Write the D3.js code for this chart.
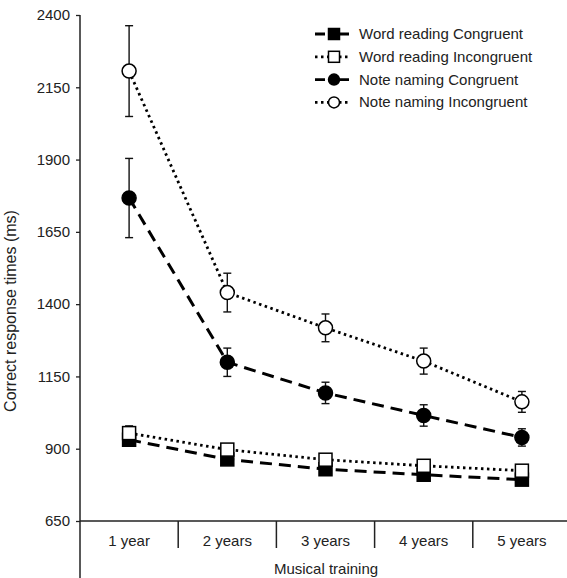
<!DOCTYPE html>
<html>
<head>
<meta charset="utf-8">
<script src="https://cdn.jsdelivr.net/npm/d3@7"></script>
<style>
  body { margin: 0; background: #fff; }
  svg text { font-family: "Liberation Sans", Arial, sans-serif; fill: #222; }
</style>
</head>
<body>
<svg id="chart" width="567" height="578"></svg>
<script>
var categories = ["1 year", "2 years", "3 years", "4 years", "5 years"];
var yTicks = [650, 900, 1150, 1400, 1650, 1900, 2150, 2400];

// means and standard errors
var wordCong = [931, 863, 829, 810, 793];
var wordCongErr = [0, 0, 0, 0, 0];
var wordIncong = [954, 897, 862, 841, 824];
var wordIncongErr = [25, 0, 0, 0, 0];
var noteCong = [1767, 1199, 1093, 1015, 939];
var noteCongErr = [137, 49, 37, 37, 30];
var noteIncong = [2206, 1440, 1318, 1203, 1062];
var noteIncongErr = [157, 67, 48, 45, 36];

var series = [
    { name: "Word reading Congruent", values: wordCong, err: wordCongErr, shape: "square", filled: true, dash: "12,7" },
    { name: "Word reading Incongruent", values: wordIncong, err: wordIncongErr, shape: "square", filled: false, dash: "2.5,3.5" },
    { name: "Note naming Congruent", values: noteCong, err: noteCongErr, shape: "circle", filled: true, dash: "12,7" },
    { name: "Note naming Incongruent", values: noteIncong, err: noteIncongErr, shape: "circle", filled: false, dash: "2.5,3.5" }
];

var svg = d3.select("#chart");
var mLeft = 80, mTop = 15, mBottom = 521, mRight = 571;

var x = d3.scaleBand().domain(categories).range([mLeft, mRight]);
var y = d3.scaleLinear().domain([650, 2400]).range([mBottom, mTop]);

// y axis
var yAxis = svg.append("g")
    .attr("transform", "translate(" + mLeft + ",0)")
    .call(d3.axisLeft(y).tickValues(yTicks).tickSize(4).tickPadding(6).tickFormat(d3.format("d")));
yAxis.select(".domain").remove();
yAxis.selectAll("line").attr("stroke", "#222").attr("stroke-width", 1.3);
yAxis.selectAll("text").style("font-size", "15px").attr("fill", "#222");
svg.append("line")
    .attr("x1", mLeft).attr("x2", mLeft)
    .attr("y1", mTop).attr("y2", 578)
    .attr("stroke", "#222").attr("stroke-width", 1.5);

// x axis with separators between categories
svg.append("line")
    .attr("x1", mLeft).attr("x2", 567)
    .attr("y1", mBottom).attr("y2", mBottom)
    .attr("stroke", "#222").attr("stroke-width", 1.5);
svg.selectAll(".sep")
    .data(categories.slice(1))
    .enter().append("line")
    .attr("class", "sep")
    .attr("x1", d => x(d)).attr("x2", d => x(d))
    .attr("y1", mBottom).attr("y2", mBottom + 27)
    .attr("stroke", "#222").attr("stroke-width", 1.5);
svg.selectAll(".xlab")
    .data(categories)
    .enter().append("text")
    .attr("class", "xlab")
    .attr("x", d => x(d) + x.bandwidth() / 2)
    .attr("y", 546)
    .attr("text-anchor", "middle")
    .style("font-size", "15px")
    .text(d => d);

svg.append("text")
    .attr("x", 326).attr("y", 574)
    .attr("text-anchor", "middle")
    .style("font-size", "15px")
    .text("Musical training");
svg.append("text")
    .attr("transform", "translate(16,311) rotate(-90)")
    .attr("text-anchor", "middle")
    .style("font-size", "16px")
    .text("Correct response times (ms)");

var cx = d => x(d) + x.bandwidth() / 2;

function drawMarker(g, s, px, py, size) {
    if (s.shape === "square") {
        g.append("rect")
            .attr("x", px - size / 2).attr("y", py - size / 2)
            .attr("width", size).attr("height", size)
            .attr("fill", s.filled ? "#000" : "#fff")
            .attr("stroke", "#000").attr("stroke-width", 1.5);
    } else {
        g.append("circle")
            .attr("cx", px).attr("cy", py).attr("r", size / 2)
            .attr("fill", s.filled ? "#000" : "#fff")
            .attr("stroke", "#000").attr("stroke-width", 1.5);
    }
}

var line = d3.line()
    .x((d, i) => cx(categories[i]))
    .y(d => y(d));

// error bars
series.forEach(s => {
    var g = svg.append("g");
    s.values.forEach((v, i) => {
        var e = s.err[i];
        if (!e) return;
        var px = cx(categories[i]);
        g.append("line").attr("x1", px).attr("x2", px)
            .attr("y1", y(v + e)).attr("y2", y(v - e))
            .attr("stroke", "#111").attr("stroke-width", 1.4);
        [v + e, v - e].forEach(t => {
            g.append("line").attr("x1", px - 4).attr("x2", px + 4)
                .attr("y1", y(t)).attr("y2", y(t))
                .attr("stroke", "#111").attr("stroke-width", 1.4);
        });
    });
});

// lines
series.forEach(s => {
    svg.append("path")
        .datum(s.values)
        .attr("d", line)
        .attr("fill", "none")
        .attr("stroke", "#000")
        .attr("stroke-width", s.filled ? 3 : 2.8)
        .attr("stroke-dasharray", s.dash);
});

// markers: congruent drawn first so incongruent squares overlap on top
series.forEach(s => {
    var g = svg.append("g");
    s.values.forEach((v, i) => drawMarker(g, s, cx(categories[i]), y(v), s.shape === "square" ? 13 : 14));
});

// legend
var legend = svg.append("g").attr("transform", "translate(315,34)");
series.forEach((s, i) => {
    var g = legend.append("g").attr("transform", "translate(0," + (i * 22.8) + ")");
    g.append("line")
        .attr("x1", 0).attr("x2", 34)
        .attr("y1", 0).attr("y2", 0)
        .attr("stroke", "#000").attr("stroke-width", 2.8)
        .attr("stroke-dasharray", s.filled ? "10,8,16" : "2.5,3.5");
    drawMarker(g, s, 19, 0, 11);
    g.append("text")
        .attr("x", 44).attr("y", 5)
        .style("font-size", "15px")
        .text(s.name);
});
</script>
</body>
</html>
